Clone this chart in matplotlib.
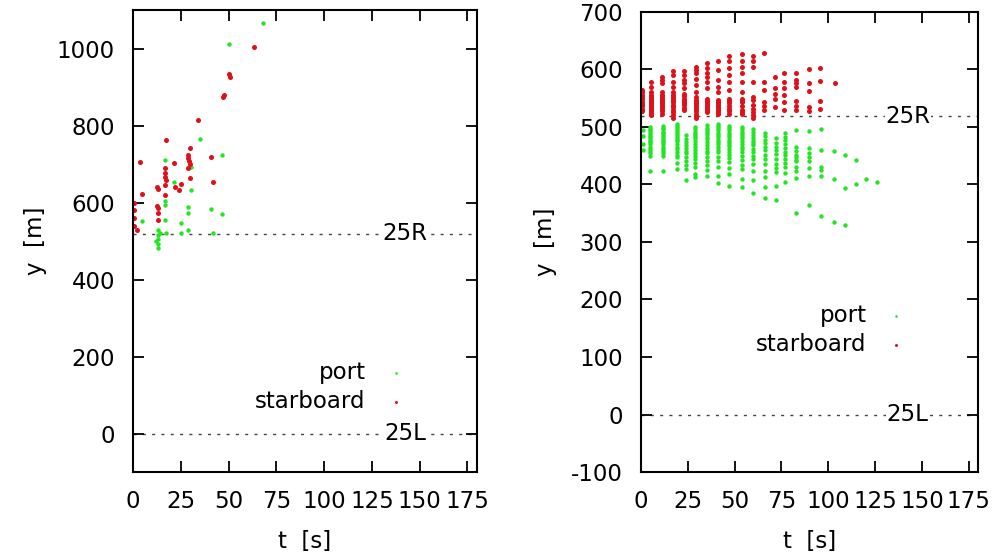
import numpy as np
import matplotlib
matplotlib.use("Agg")
import matplotlib.pyplot as plt

plt.rcParams["axes.unicode_minus"] = False

# ---- left panel: individual points ----
LEFT_PORT_T = [68.2, 50.4, 34.9, 46.4, 16.9, 30.1, 21.4, 16.9, 16.9, 30.1, 28.9, 28.9,
               40.6, 46.4, 4.8, 16.9, 24.9, 12.9, 12.9, 12.9, 12.9, 12.9, 25.0, 28.9,
               42.0, 17.0, 14.0, 12.0]
LEFT_PORT_Y = [1066, 1013, 766, 723, 711, 692, 654, 605, 595, 632, 589, 572,
               583, 570, 552, 555, 548, 529, 515, 505, 493, 483, 520, 530,
               520, 522, 520, 500]

LEFT_STAR_T = [63.4, 50.8, 50.4, 46.9, 47.6, 34.2, 17.0, 29.6, 28.9, 29.2, 29.6, 28.6,
               40.6, 21.4, 3.6, 16.9, 16.9, 16.9, 16.9, 24.9, 29.6, 24.0, 13.0, 12.5,
               16.9, 42.0, 12.5, 12.9, 13.3, 13.0, 4.8, 0.4, 0.4, 0.4, 0.4, 2.0,
               17.5, 22.0, 29.0]
LEFT_STAR_Y = [1005, 926, 935, 875, 880, 815, 763, 742, 715, 708, 700, 690,
               718, 703, 705, 690, 677, 667, 647, 648, 665, 632, 635, 640,
               619, 655, 591, 585, 572, 555, 622, 599, 580, 560, 540, 529,
               660, 640, 725]

# ---- right panel: points come in columns (one t per column) ----
RIGHT_PORT_T = [1, 5, 12, 19, 24, 29, 35, 41, 47, 54, 60, 66, 72, 77, 83, 90, 96,
                103, 109, 115, 120, 126]
RIGHT_PORT_Y = [
    [495, 485, 470, 460],
    [500, 497, 494, 491, 488, 485, 482, 479, 476, 473, 470, 466, 462, 458, 455, 450, 423],
    [502, 499, 496, 492, 489, 486, 482, 479, 476, 473, 470, 466, 462, 458, 454, 450, 423],
    [505, 502, 498, 494, 491, 488, 484, 481, 478, 475, 470, 466, 461, 456, 451, 447, 438, 427],
    [486, 479, 474, 469, 464, 459, 454, 448, 441, 434, 427, 407],
    [500, 496, 492, 488, 484, 480, 476, 471, 466, 460, 455, 450, 444, 437, 430, 418, 413],
    [503, 499, 495, 491, 487, 483, 479, 474, 469, 464, 459, 454, 448, 441, 433, 425, 415],
    [506, 502, 498, 494, 490, 486, 482, 478, 474, 470, 465, 460, 456, 448, 440, 430, 415, 402],
    [502, 498, 494, 490, 486, 482, 478, 474, 470, 467, 462, 457, 452, 446, 439, 428, 418, 398],
    [500, 496, 492, 488, 484, 480, 476, 471, 466, 461, 456, 450, 442, 434, 427, 410, 395],
    [497, 492, 486, 480, 476, 472, 468, 462, 456, 450, 445, 436, 424, 407, 385],
    [490, 484, 478, 472, 466, 460, 452, 444, 435, 424, 413, 395, 376],
    [480, 472, 466, 460, 453, 445, 436, 428, 421, 398, 373],
    [490, 483, 477, 470, 463, 457, 451, 445, 437, 430, 420, 405],
    [494, 465, 459, 452, 447, 443, 440, 430, 424, 412, 351],
    [493, 464, 455, 447, 440, 429, 415, 365],
    [497, 460, 431, 425, 415, 345],
    [459, 409, 334],
    [451, 393, 330],
    [442, 401],
    [410],
    [405],
]

RIGHT_STAR_T = [0.5, 5.6, 11.4, 17.1, 23.0, 29.3, 35.1, 41.2, 47.1, 53.7, 60.0,
                65.8, 71.7, 76.6, 82.7, 89.6, 95.5, 103.5]
RIGHT_STAR_Y = [
    [528, 532, 536, 540, 544, 548, 552, 556, 560, 565],
    [520, 524, 527, 530, 532, 535, 538, 541, 543, 546, 549, 552, 555, 561, 570, 579],
    [523, 527, 532, 535, 538, 541, 543, 546, 549, 552, 555, 561, 576, 582, 587],
    [515, 520, 526, 530, 535, 539, 543, 546, 549, 552, 555, 561, 570, 579, 591, 598],
    [529, 533, 538, 541, 543, 546, 549, 553, 558, 567, 576, 582, 591, 598],
    [515, 519, 523, 528, 532, 535, 538, 541, 543, 547, 552, 561, 573, 584, 593, 599, 605],
    [526, 529, 532, 535, 538, 541, 543, 546, 549, 567, 579, 587, 593, 602, 611],
    [523, 526, 529, 532, 535, 538, 541, 544, 547, 561, 570, 582, 599, 614],
    [523, 528, 532, 537, 541, 545, 549, 565, 579, 591, 602, 614, 623],
    [523, 526, 529, 536, 543, 546, 549, 561, 579, 593, 605, 614, 627],
    [515, 521, 526, 532, 538, 547, 552, 579, 605, 614, 623],
    [529, 536, 543, 565, 579, 628],
    [535, 549, 558, 567, 587],
    [529, 543, 555, 567, 579, 593],
    [529, 537, 545, 570, 576, 581, 593],
    [528, 534, 562, 576, 601],
    [531, 545, 580, 603],
    [577],
]

RUNWAYS = [("25R", 519), ("25L", 0)]

GREEN = "#22e622"
RED = "#e0101a"
FS = 16.5


def expand(cols_t, cols_y):
    t = np.concatenate([[ti] * len(ys) for ti, ys in zip(cols_t, cols_y)])
    y = np.concatenate([np.asarray(ys, float) for ys in cols_y])
    return t, y


def style(ax, ylim, yticks):
    ax.set_xlim(0, 180)
    ax.set_ylim(*ylim)
    ax.set_xticks(np.arange(0, 176, 25))
    ax.set_yticks(yticks)
    ax.tick_params(direction="in", length=8, width=1.3, top=True, right=True,
                   labelsize=FS, pad=13)
    for s in ax.spines.values():
        s.set_linewidth(1.5)
    ax.set_xlabel("t  [s]", fontsize=FS)
    ax.set_ylabel("y  [m]", fontsize=FS)
    ax.xaxis.set_label_coords(0.5, -0.125)
    ax.yaxis.set_label_coords(-0.25, 0.5)
    for name, yv in RUNWAYS:
        ax.axhline(yv, color="#444444", lw=1.0, ls=(0, (2.2, 4.5)), zorder=1)
        ax.text(142.5, yv, name, fontsize=FS, ha="center", va="center", zorder=3,
                bbox=dict(facecolor="white", edgecolor="none", pad=0.5))


def panel(ax, pt, py, st, sy, ylim, yticks, leg_anchor):
    style(ax, ylim, yticks)
    hp = ax.scatter(pt, py, s=10, color=GREEN, linewidths=0, zorder=2)
    hs = ax.scatter(st, sy, s=13, color=RED, linewidths=0, zorder=2)
    ax.legend([hp, hs], ["port", "starboard"], loc="upper right",
              bbox_to_anchor=leg_anchor, frameon=False, markerfirst=False,
              fontsize=FS, handlelength=0.8, handletextpad=0.9,
              labelspacing=0.25, borderaxespad=0, borderpad=0, markerscale=0.6)


fig = plt.figure(figsize=(9.95, 5.55), dpi=100)
ax_l = fig.add_axes([0.1337, 0.1495, 0.3457, 0.832])
ax_r = fig.add_axes([0.6442, 0.1495, 0.3387, 0.829])

panel(ax_l, LEFT_PORT_T, LEFT_PORT_Y, LEFT_STAR_T, LEFT_STAR_Y,
      (-100, 1100), np.arange(0, 1001, 200), (0.79, 0.24))

rpt, rpy = expand(RIGHT_PORT_T, RIGHT_PORT_Y)
rst, rsy = expand(RIGHT_STAR_T, RIGHT_STAR_Y)
panel(ax_r, rpt, rpy, rst, rsy, (-100, 700), np.arange(-100, 701, 100), (0.785, 0.365))

fig.savefig("out.png", dpi=100)
